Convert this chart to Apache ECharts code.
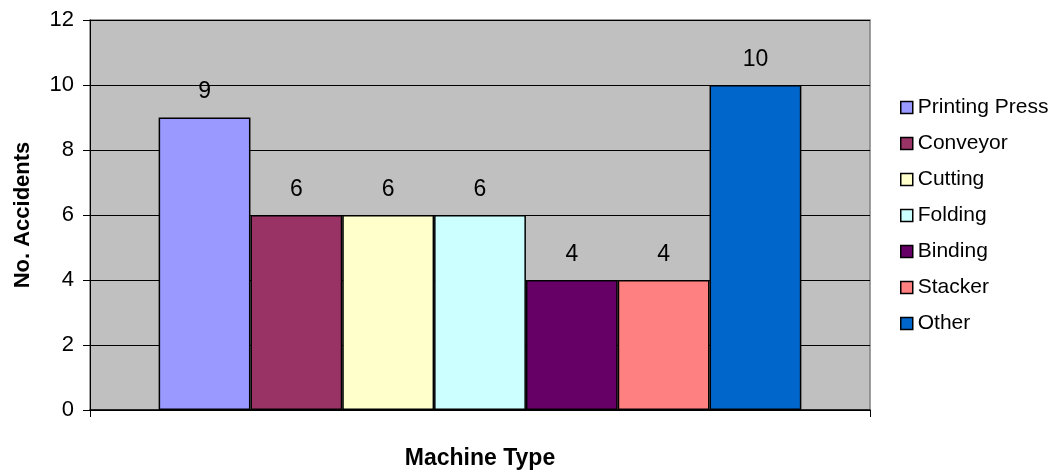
<!DOCTYPE html>
<html>
<head>
<meta charset="utf-8">
<script src="https://cdn.jsdelivr.net/npm/echarts@6/dist/echarts.min.js"></script>
<style>html,body{margin:0;padding:0;background:#fff}#c{width:1055px;height:473px}</style>
</head>
<body>
<div id="c"></div>
<script>
var categories = [''];
var seriesNames = ['Printing Press', 'Conveyor', 'Cutting', 'Folding', 'Binding', 'Stacker', 'Other'];
var seriesValues = [9, 6, 6, 6, 4, 4, 10];
var seriesColors = ['#9999FF', '#993366', '#FFFFCC', '#CCFFFF', '#660066', '#FF8080', '#0066CC'];
var yTicks = [0, 2, 4, 6, 8, 10, 12];

var font = '"Liberation Sans", Arial, sans-serif';
var chart = echarts.init(document.getElementById('c'));
var series = seriesNames.map(function (n, i) {
  return {
    name: n, type: 'bar', data: [seriesValues[i]],
    barGap: '0%', barCategoryGap: '17.6%',
    itemStyle: { color: seriesColors[i], borderColor: '#000', borderWidth: 1.5 },
    label: { show: true, position: 'top', distance: 14, color: '#000', fontSize: 23, fontFamily: font },
    emphasis: { disabled: true }
  };
});
chart.setOption({
  animation: false,
  textStyle: { fontFamily: font },
  grid: { left: 90, right: 185, top: 20, bottom: 63, containLabel: false, outerBoundsMode: 'none',
          show: true, backgroundColor: '#C0C0C0', borderColor: '#808080', borderWidth: 1.5 },
  legend: {
    orient: 'vertical', left: 895, top: 92, itemGap: 15, itemWidth: 12, itemHeight: 12, icon: 'rect',
    itemStyle: { borderColor: '#000', borderWidth: 1.5 },
    textStyle: { fontSize: 21, color: '#000', fontFamily: font },
    data: seriesNames
  },
  xAxis: {
    type: 'category', data: categories,
    name: 'Machine Type', nameLocation: 'middle', nameGap: 37,
    nameTextStyle: { fontSize: 23, fontWeight: 'bold', color: '#000', fontFamily: font },
    axisLine: { lineStyle: { color: '#000', width: 1.5 } },
    axisTick: { show: true, length: 7, lineStyle: { color: '#000' } },
    axisLabel: { show: false }
  },
  yAxis: {
    type: 'value', min: yTicks[0], max: yTicks[yTicks.length - 1], interval: 2,
    name: 'No. Accidents', nameLocation: 'middle', nameGap: 56, nameRotate: 90,
    nameTextStyle: { fontSize: 22, fontWeight: 'bold', color: '#000', fontFamily: font },
    axisLine: { show: true, lineStyle: { color: '#000', width: 1 } },
    axisTick: { show: true, length: 7, lineStyle: { color: '#000' } },
    axisLabel: { fontSize: 22, color: '#000', margin: 16, fontFamily: font },
    splitLine: { lineStyle: { color: '#000', width: 1 } }
  },
  series: series
});
</script>
</body>
</html>
